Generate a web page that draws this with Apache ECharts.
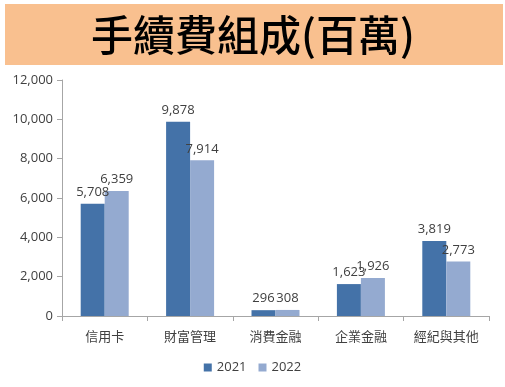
<!DOCTYPE html>
<html><head><meta charset="utf-8">
<script src="https://cdn.jsdelivr.net/npm/echarts@6/dist/echarts.min.js"></script>
<style>html,body{margin:0;padding:0;background:#fff}#c{width:505px;height:387px}</style>
</head><body><div id="c"></div>
<script>
var titleText = '手續費組成(百萬)';
var categories = ['信用卡', '財富管理', '消費金融', '企業金融', '經紀與其他'];
var seriesNames = ['2021', '2022'];
var values2021 = [5708, 9878, 296, 1623, 3819];
var values2022 = [6359, 7914, 308, 1926, 2773];
var colors = ['#4472A8', '#94AAD0'];

var chart = echarts.init(document.getElementById('c'), null, {renderer: 'canvas'});
var font = '"Noto Sans CJK TC", "Noto Sans", sans-serif';
var numFont = '"Open Sans", "Noto Sans", sans-serif';
chart.setOption({
  animation: false,
  textStyle: {fontFamily: font},
  graphic: [
    {type: 'rect', shape: {x: 5, y: 4, width: 498, height: 61}, style: {fill: '#F9C08F'}, z: 0},
    {type: 'text', x: 253, y: 35, style: {text: titleText, fill: '#000', font: '500 42px ' + font, textAlign: 'center', textVerticalAlign: 'middle'}, z: 1}
  ],
  legend: {
    data: seriesNames, bottom: 8, left: 'center', itemWidth: 8, itemHeight: 8, itemGap: 12,
    icon: 'rect', textStyle: {fontSize: 13, color: '#404040', fontFamily: numFont}
  },
  grid: {left: 62, right: 16, top: 80, bottom: 71, containLabel: false},
  xAxis: {
    type: 'category', data: categories,
    axisLine: {lineStyle: {color: '#A6A6A6'}},
    axisTick: {show: true, length: 5, alignWithLabel: false, lineStyle: {color: '#A6A6A6'}},
    axisLabel: {color: '#404040', fontSize: 13, margin: 14, fontFamily: font}
  },
  yAxis: {
    type: 'value', min: 0, max: 12000, interval: 2000,
    splitLine: {show: false},
    axisLine: {show: true, lineStyle: {color: '#A6A6A6'}},
    axisTick: {show: true, length: 5, lineStyle: {color: '#A6A6A6'}},
    axisLabel: {color: '#404040', fontSize: 13, margin: 9, fontFamily: numFont,
      formatter: function (v) { return v.toLocaleString('en-US'); }}
  },
  series: [
    {name: seriesNames[0], type: 'bar', data: values2021, barWidth: 24, barGap: '0%',
     itemStyle: {color: colors[0]},
     label: {show: true, position: 'top', distance: 5, color: '#404040', fontSize: 13, fontFamily: numFont,
       formatter: function (p) { return p.value.toLocaleString('en-US'); }}},
    {name: seriesNames[1], type: 'bar', data: values2022, barWidth: 24, barGap: '0%',
     itemStyle: {color: colors[1]},
     label: {show: true, position: 'top', distance: 5, color: '#404040', fontSize: 13, fontFamily: numFont,
       formatter: function (p) { return p.value.toLocaleString('en-US'); }}}
  ]
});
</script></body></html>
